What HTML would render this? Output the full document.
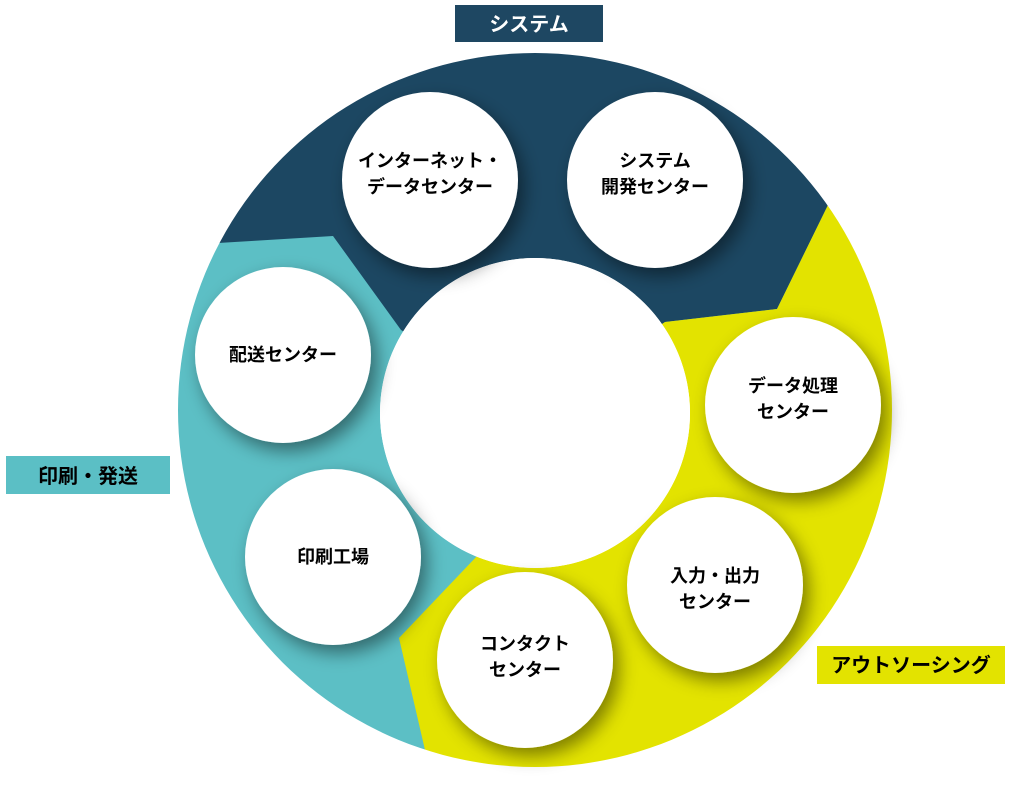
<!DOCTYPE html>
<html><head><meta charset="utf-8"><style>
body{margin:0;width:1024px;height:785px;background:#fff;overflow:hidden;font-family:"Liberation Sans","Noto Sans CJK JP",sans-serif;}
svg{position:absolute;left:0;top:0}
</style></head><body>
<svg width="1024" height="785" viewBox="0 0 1024 785" font-family="Liberation Sans, Noto Sans CJK JP, sans-serif">
<defs>
<clipPath id="ring"><path clip-rule="evenodd" d="M535,53 a357,357 0 1,0 0.01,0 Z M535,258 a155,155 0 1,1 -0.01,0 Z"/></clipPath>
<filter id="sh" x="-40%" y="-40%" width="180%" height="180%"><feDropShadow dx="6" dy="8" stdDeviation="9" flood-color="#000" flood-opacity="0.45"/></filter>
<filter id="sh2" x="-40%" y="-40%" width="180%" height="180%"><feDropShadow dx="3" dy="8" stdDeviation="10" flood-color="#000" flood-opacity="0.35"/></filter>
</defs>
<g clip-path="url(#ring)" filter="url(#sh2)">
<circle cx="535" cy="410" r="360" fill="#5bbfc5"/>
<polygon points="150,248 218,243 333,236 401,330 535,410 665,322 777,309 828,205 900,60 150,0" fill="#1e4762"/>
<polygon points="828,205 777,309 665,322 535,410 478,555 399,638 425,750 440,800 1000,800 1000,60 900,60" fill="#e3e300"/>
</g>
<circle cx="535" cy="413" r="155" fill="#fff"/>
<g fill="#fff" filter="url(#sh)">
<circle cx="430" cy="180" r="88"/>
<circle cx="655" cy="180" r="88"/>
<circle cx="283" cy="355" r="88"/>
<circle cx="793" cy="405" r="88"/>
<circle cx="333" cy="557" r="88"/>
<circle cx="715" cy="585" r="88"/>
<circle cx="525" cy="660" r="88"/>
</g>
<g font-size="18" font-weight="bold" fill="#000" text-anchor="middle">
<text x="430" y="167">インターネット・</text><text x="430" y="193">データセンター</text>
<text x="655" y="167">システム</text><text x="655" y="193">開発センター</text>
<text x="283" y="361">配送センター</text>
<text x="793" y="392">データ処理</text><text x="793" y="418">センター</text>
<text x="333" y="563">印刷工場</text>
<text x="715" y="582">入力・出力</text><text x="715" y="608">センター</text>
<text x="525" y="650">コンタクト</text><text x="525" y="676">センター</text>
</g>
<rect x="455" y="5" width="148" height="37" fill="#1e4762"/>
<text x="529" y="31" font-size="20" font-weight="bold" fill="#fff" text-anchor="middle">システム</text>
<rect x="6" y="456" width="164" height="38" fill="#5bbfc5"/>
<text x="88" y="483" font-size="20" font-weight="bold" fill="#000" text-anchor="middle">印刷・発送</text>
<rect x="817" y="646" width="188" height="38" fill="#e3e300"/>
<text x="911" y="672" font-size="20" font-weight="bold" fill="#000" text-anchor="middle">アウトソーシング</text>
</svg>
</body></html>
